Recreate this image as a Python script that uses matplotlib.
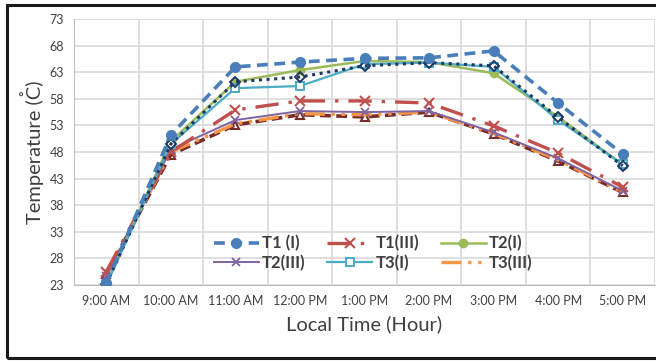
import matplotlib
matplotlib.use("Agg")
import matplotlib.pyplot as plt
from matplotlib.patches import Rectangle
from matplotlib.ticker import FixedLocator

plt.rcParams['font.family'] = ['Lato', 'DejaVu Sans']

hours = ["9:00 AM", "10:00 AM", "11:00 AM", "12:00 PM", "1:00 PM",
         "2:00 PM", "3:00 PM", "4:00 PM", "5:00 PM"]

t1_i = [23.3, 51.2, 64.0, 64.9, 65.6, 65.7, 67.0, 57.2, 47.6]
t1_iii = [25.5, 48.0, 55.9, 57.6, 57.6, 57.2, 52.9, 47.8, 41.4]
t2_i = [23.3, 50.0, 61.2, 63.4, 65.1, 64.9, 62.8, 54.6, 45.6]
t2_iii = [24.6, 48.5, 54.0, 55.7, 55.5, 55.7, 51.7, 46.8, 40.7]
t3_i = [23.0, 49.5, 60.0, 60.4, 64.5, 64.8, 64.0, 54.0, 45.7]
t3_iii = [24.8, 48.0, 53.3, 55.2, 55.0, 55.5, 51.5, 46.5, 40.5]
t_avg_i = [23.2, 49.5, 61.2, 62.1, 64.2, 64.8, 64.2, 54.5, 45.4]
t_avg_iii = [25.0, 47.5, 53.1, 55.0, 54.6, 55.5, 51.4, 46.3, 40.4]

yticks = list(range(23, 74, 5))

W, H = 656, 363
fig = plt.figure(figsize=(W / 100, H / 100), dpi=100)
ax = fig.add_axes([74 / W, 1 - 285 / H, 581 / W, 266 / H])

x = list(range(len(hours)))

ax.plot(x, t_avg_iii, color='#772C2A', lw=2.6, ls=(0, (3, 1.5)),
        marker='^', ms=6, mfc='none', mec='#772C2A', mew=1.5, zorder=3)
ax.plot(x, t3_iii, color='#F79646', lw=2.4, ls=(0, (6, 2, 1, 2, 1, 2)),
        label='T3(III)', zorder=3)
ax.plot(x, t2_iii, color='#8064A2', lw=1.4, marker='x', ms=6, mew=1.3,
        label='T2(III)', zorder=4)
ax.plot(x, t1_iii, color='#C0504D', lw=2.4, ls=(0, (7, 3, 1, 3)),
        marker='x', ms=7, mew=1.5, label='T1(III)', zorder=4)
ax.plot(x, t2_i, color='#9BBB59', lw=1.8, marker='o', ms=6,
        label='T2(I)', zorder=4)
ax.plot(x, t3_i, color='#4BACC6', lw=1.6, marker='s', ms=6, mfc='white',
        mec='#4BACC6', mew=1.4, label='T3(I)', zorder=4)
ax.plot(x, t_avg_i, color='#1F3864', lw=2.2, ls=(0, (1, 1.5)),
        marker='D', ms=5, mfc='none', mec='#1F3864', mew=1.4, zorder=5)
ax.plot(x, t1_i, color='#4A7EBB', lw=2.6, ls=(0, (3, 1.8)),
        marker='o', ms=7, label='T1 (I)', zorder=6)

ax.set_xlim(-0.5, len(hours) - 0.5)
ax.set_ylim(23, 73)
ax.set_xticks(x)
ax.set_xticklabels(hours)
ax.xaxis.set_minor_locator(FixedLocator([i + 0.5 for i in range(len(hours))]))
ax.set_yticks(yticks)
ax.tick_params(axis='both', which='both', length=0, labelsize=9,
               labelcolor='#404040')
ax.tick_params(axis='x', pad=7)
ax.tick_params(axis='y', pad=7)
ax.grid(axis='y', color='#D9D9D9', lw=1.2)
ax.grid(axis='x', which='minor', color='#D9D9D9', lw=1.2)
ax.set_axisbelow(True)
for side in ['top', 'right']:
    ax.spines[side].set_visible(False)
for side in ['left', 'bottom']:
    ax.spines[side].set_color('#BFBFBF')

label_size = 14.5
ax.set_xlabel('Local Time (Hour)', fontsize=label_size, color='#404040',
              labelpad=6)
ylab_text = 'Temperature (C)'
ax.set_ylabel(ylab_text, fontsize=label_size, color='#404040', labelpad=4)

# legend laid out row by row (matplotlib fills columns first)
handles, labels = ax.get_legend_handles_labels()
order = ['T1 (I)', 'T2(III)', 'T1(III)', 'T3(I)', 'T2(I)', 'T3(III)']
hmap = dict(zip(labels, handles))
leg = ax.legend([hmap[k] for k in order], order, ncol=3, loc='center',
                bbox_to_anchor=(0.515, 0.12), frameon=False,
                prop={'weight': 'bold', 'size': 12}, handlelength=2.7,
                handletextpad=0.2, columnspacing=1.3, labelspacing=0.2,
                borderaxespad=0)
for t in leg.get_texts():
    t.set_color('#404040')

# small ring over the "C" of the rotated y label
fig.canvas.draw()
renderer = fig.canvas.get_renderer()
ylab = ax.yaxis.label
bb = ylab.get_window_extent(renderer)
prop = ylab.get_fontproperties()


def text_width(s):
    w, _, _ = renderer.get_text_width_height_descent(s, prop, ismath=False)
    return w


full_w = text_width(ylab_text)
pre_w = text_width('Temperature (')
c_w = text_width('C')
scale = bb.height / full_w if full_w else 1.0
c_center_y = bb.y0 + (pre_w + c_w / 2) * scale
ring_x = bb.x0 + 2.0
fig.text(ring_x / W, c_center_y / H, '\u02da', rotation=90,
         fontsize=11, color='#404040', ha='center', va='center',
         family=['DejaVu Sans'])

fig.patches.append(Rectangle((7 / W, 5 / H), 660 / W, 353 / H,
                             transform=fig.transFigure, fill=False,
                             ec='#1A1A1A', lw=2.2))

fig.savefig('out.png', dpi=100)
